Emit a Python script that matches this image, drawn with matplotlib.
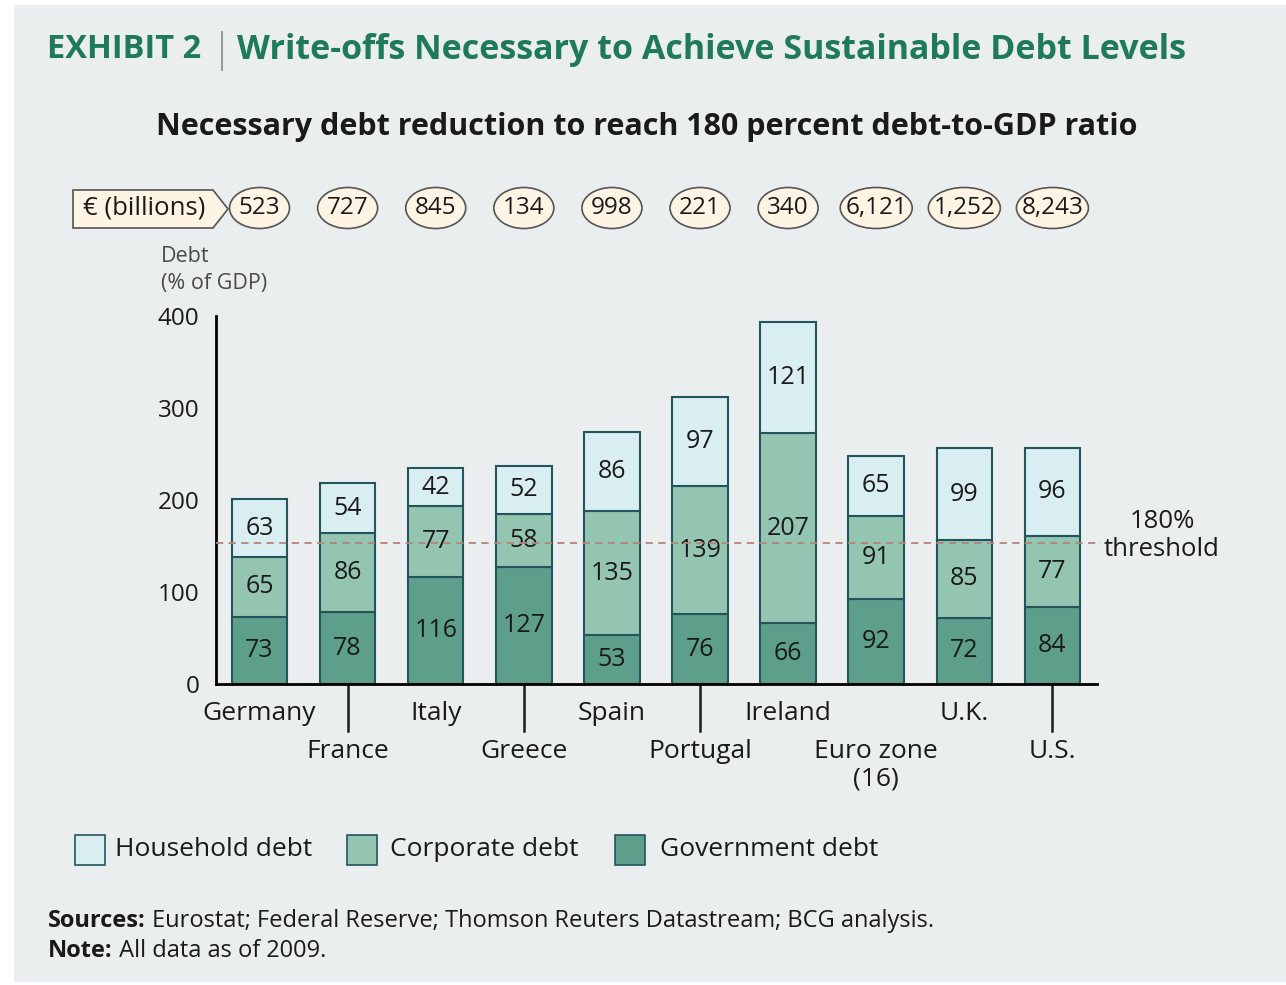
import matplotlib
matplotlib.use('Agg')
import matplotlib.pyplot as plt
from matplotlib.patches import Rectangle, Ellipse, Polygon
from matplotlib.lines import Line2D
import matplotlib.transforms as mtransforms
import numpy as np

plt.rcParams['font.family'] = ['Open Sans', 'DejaVu Sans']

countries = ['Germany', 'France', 'Italy', 'Greece', 'Spain', 'Portugal',
             'Ireland', 'Euro zone\n(16)', 'U.K.', 'U.S.']
government = [73, 78, 116, 127, 53, 76, 66, 92, 72, 84]
corporate = [65, 86, 77, 58, 135, 139, 207, 91, 85, 77]
household = [63, 54, 42, 52, 86, 97, 121, 65, 99, 96]
write_offs = ['523', '727', '845', '134', '998', '221', '340', '6,121', '1,252', '8,243']
# line is drawn at about 153 on the axis in the source picture
threshold_level = 153
y_ticks = [0, 100, 200, 300, 400]

W, H = 1286, 985
c_house = '#d9eef0'
c_corp = '#93c5b1'
c_gov = '#5e9f8c'
c_edge = '#24545e'
c_bg = '#ebeeee'
c_green = '#1f7a5c'
c_cream = '#fdf4e4'
c_text = '#1a1a1a'


def fx(x):
    return x / W


def fy(y):
    return 1 - y / H


fig = plt.figure(figsize=(W / 100, H / 100), dpi=100)
fig.patch.set_facecolor('white')
fig.patches.append(Rectangle((fx(14), fy(982)), fx(1286 - 14), (982 - 5) / H,
                             transform=fig.transFigure, facecolor=c_bg,
                             edgecolor='none', zorder=-10))

# titles
fig.text(fx(47), fy(50), 'EXHIBIT 2', color=c_green, fontsize=23.5, fontweight='bold',
         va='center', ha='left')
fig.add_artist(Line2D([fx(222), fx(222)], [fy(32), fy(70)], color='#888888', lw=1.2))
fig.text(fx(237), fy(50), 'Write-offs Necessary to Achieve Sustainable Debt Levels',
         color=c_green, fontsize=24.5, fontweight='bold', va='center', ha='left')
fig.text(fx(647), fy(127), 'Necessary debt reduction to reach 180 percent debt-to-GDP ratio',
         color=c_text, fontsize=22, fontweight='bold', va='center', ha='center')

# main axes
ax = fig.add_axes([fx(216), fy(684), fx(1097 - 216), (684 - 316) / H])
ax.set_facecolor('none')
x = np.arange(len(countries))
bw = 0.63
bottom2 = np.array(government)
bottom3 = bottom2 + np.array(corporate)
ax.bar(x, government, bw, color=c_gov, edgecolor=c_edge, linewidth=1.5, clip_on=False)
ax.bar(x, corporate, bw, bottom=bottom2, color=c_corp, edgecolor=c_edge, linewidth=1.5, clip_on=False)
ax.bar(x, household, bw, bottom=bottom3, color=c_house, edgecolor=c_edge, linewidth=1.5, clip_on=False)

for i in range(len(countries)):
    ax.text(x[i], government[i] / 2, str(government[i]), ha='center', va='center',
            fontsize=18, color=c_text)
    ax.text(x[i], bottom2[i] + corporate[i] / 2, str(corporate[i]), ha='center', va='center',
            fontsize=18, color=c_text)
    ax.text(x[i], bottom3[i] + household[i] / 2, str(household[i]), ha='center', va='center',
            fontsize=18, color=c_text)

ax.set_xlim(-0.494, 9.506)
ax.set_ylim(0, 400)
ax.set_yticks(y_ticks)
ax.tick_params(axis='y', length=0, pad=12, labelsize=17.5, labelcolor=c_text)
ax.set_xticks([])
for s in ['top', 'right']:
    ax.spines[s].set_visible(False)
ax.spines['left'].set_linewidth(2)
ax.spines['bottom'].set_linewidth(2)

# threshold line
ax.plot([-0.494, 9.55], [threshold_level, threshold_level], color='#b3847c', lw=1.3,
        dashes=(4, 3), zorder=5, clip_on=False)
fig.text(fx(1162), fy(522), '180%', ha='center', va='center', fontsize=18.5, color=c_text)
fig.text(fx(1162), fy(549), 'threshold', ha='center', va='center', fontsize=18.5, color=c_text)

# category labels, alternating rows
trans = mtransforms.blended_transform_factory(ax.transData, fig.transFigure)
for i, name in enumerate(countries):
    if i % 2 == 0:
        ax.text(x[i], fy(714), name, transform=trans, ha='center', va='center',
                fontsize=19, color=c_text)
    elif '\n' in name:
        first, second = name.split('\n')
        ax.text(x[i], fy(751), first, transform=trans, ha='center', va='center',
                fontsize=19, color=c_text)
        ax.text(x[i], fy(779), second, transform=trans, ha='center', va='center',
                fontsize=19, color=c_text)
    else:
        ax.text(x[i], fy(751), name, transform=trans, ha='center', va='center',
                fontsize=19, color=c_text)
        ax.add_artist(Line2D([x[i], x[i]], [fy(686), fy(731)], transform=trans,
                             color=c_text, lw=1.8, clip_on=False))

ax.text(-1.12, fy(257), 'Debt', transform=trans, ha='left', va='center', fontsize=15.5,
        color='#4a4a4a')
ax.text(-1.12, fy(284), '(% of GDP)', transform=trans, ha='left', va='center', fontsize=15.5,
        color='#4a4a4a')

# write-off bubbles
for i, val in enumerate(write_offs):
    ew = (60 + 6 * max(len(val) - 3, 0)) / 88.1
    ax.add_patch(Ellipse((x[i], fy(208)), ew, 41 / H, transform=trans, facecolor=c_cream,
                         edgecolor='#555555', lw=1.2, clip_on=False))
    ax.text(x[i], fy(208), val, transform=trans, ha='center', va='center', fontsize=17.5,
            color=c_text)

tag = Polygon([[fx(73), fy(190)], [fx(213), fy(190)], [fx(228), fy(209)],
               [fx(213), fy(228)], [fx(73), fy(228)]], closed=True,
              transform=fig.transFigure, facecolor=c_cream, edgecolor='#555555', lw=1.2)
fig.patches.append(tag)
fig.text(fx(144), fy(208), '€ (billions)', ha='center', va='center', fontsize=18.5, color=c_text)

# legend
legend_items = [('Household debt', c_house, 75, 115), ('Corporate debt', c_corp, 347, 390),
                ('Government debt', c_gov, 615, 660)]
for label, col, px, tx in legend_items:
    fig.patches.append(Rectangle((fx(px), fy(865)), 30 / W, 30 / H, transform=fig.transFigure,
                                 facecolor=col, edgecolor=c_edge, lw=1.2))
    fig.text(fx(tx), fy(850), label, ha='left', va='center', fontsize=19, color=c_text)

# footnotes
t1 = fig.text(fx(48), fy(921), 'Sources:', ha='left', va='center', fontsize=17,
              fontweight='bold', color=c_text)
ax.annotate(' Eurostat; Federal Reserve; Thomson Reuters Datastream; BCG analysis.',
            xy=(1, 0.5), xycoords=t1, ha='left', va='center', fontsize=17, color=c_text,
            annotation_clip=False)
t2 = fig.text(fx(48), fy(951), 'Note:', ha='left', va='center', fontsize=17,
              fontweight='bold', color=c_text)
ax.annotate(' All data as of 2009.', xy=(1, 0.5), xycoords=t2, ha='left', va='center',
            fontsize=17, color=c_text, annotation_clip=False)

fig.savefig('out.png', dpi=100, facecolor=fig.get_facecolor())
